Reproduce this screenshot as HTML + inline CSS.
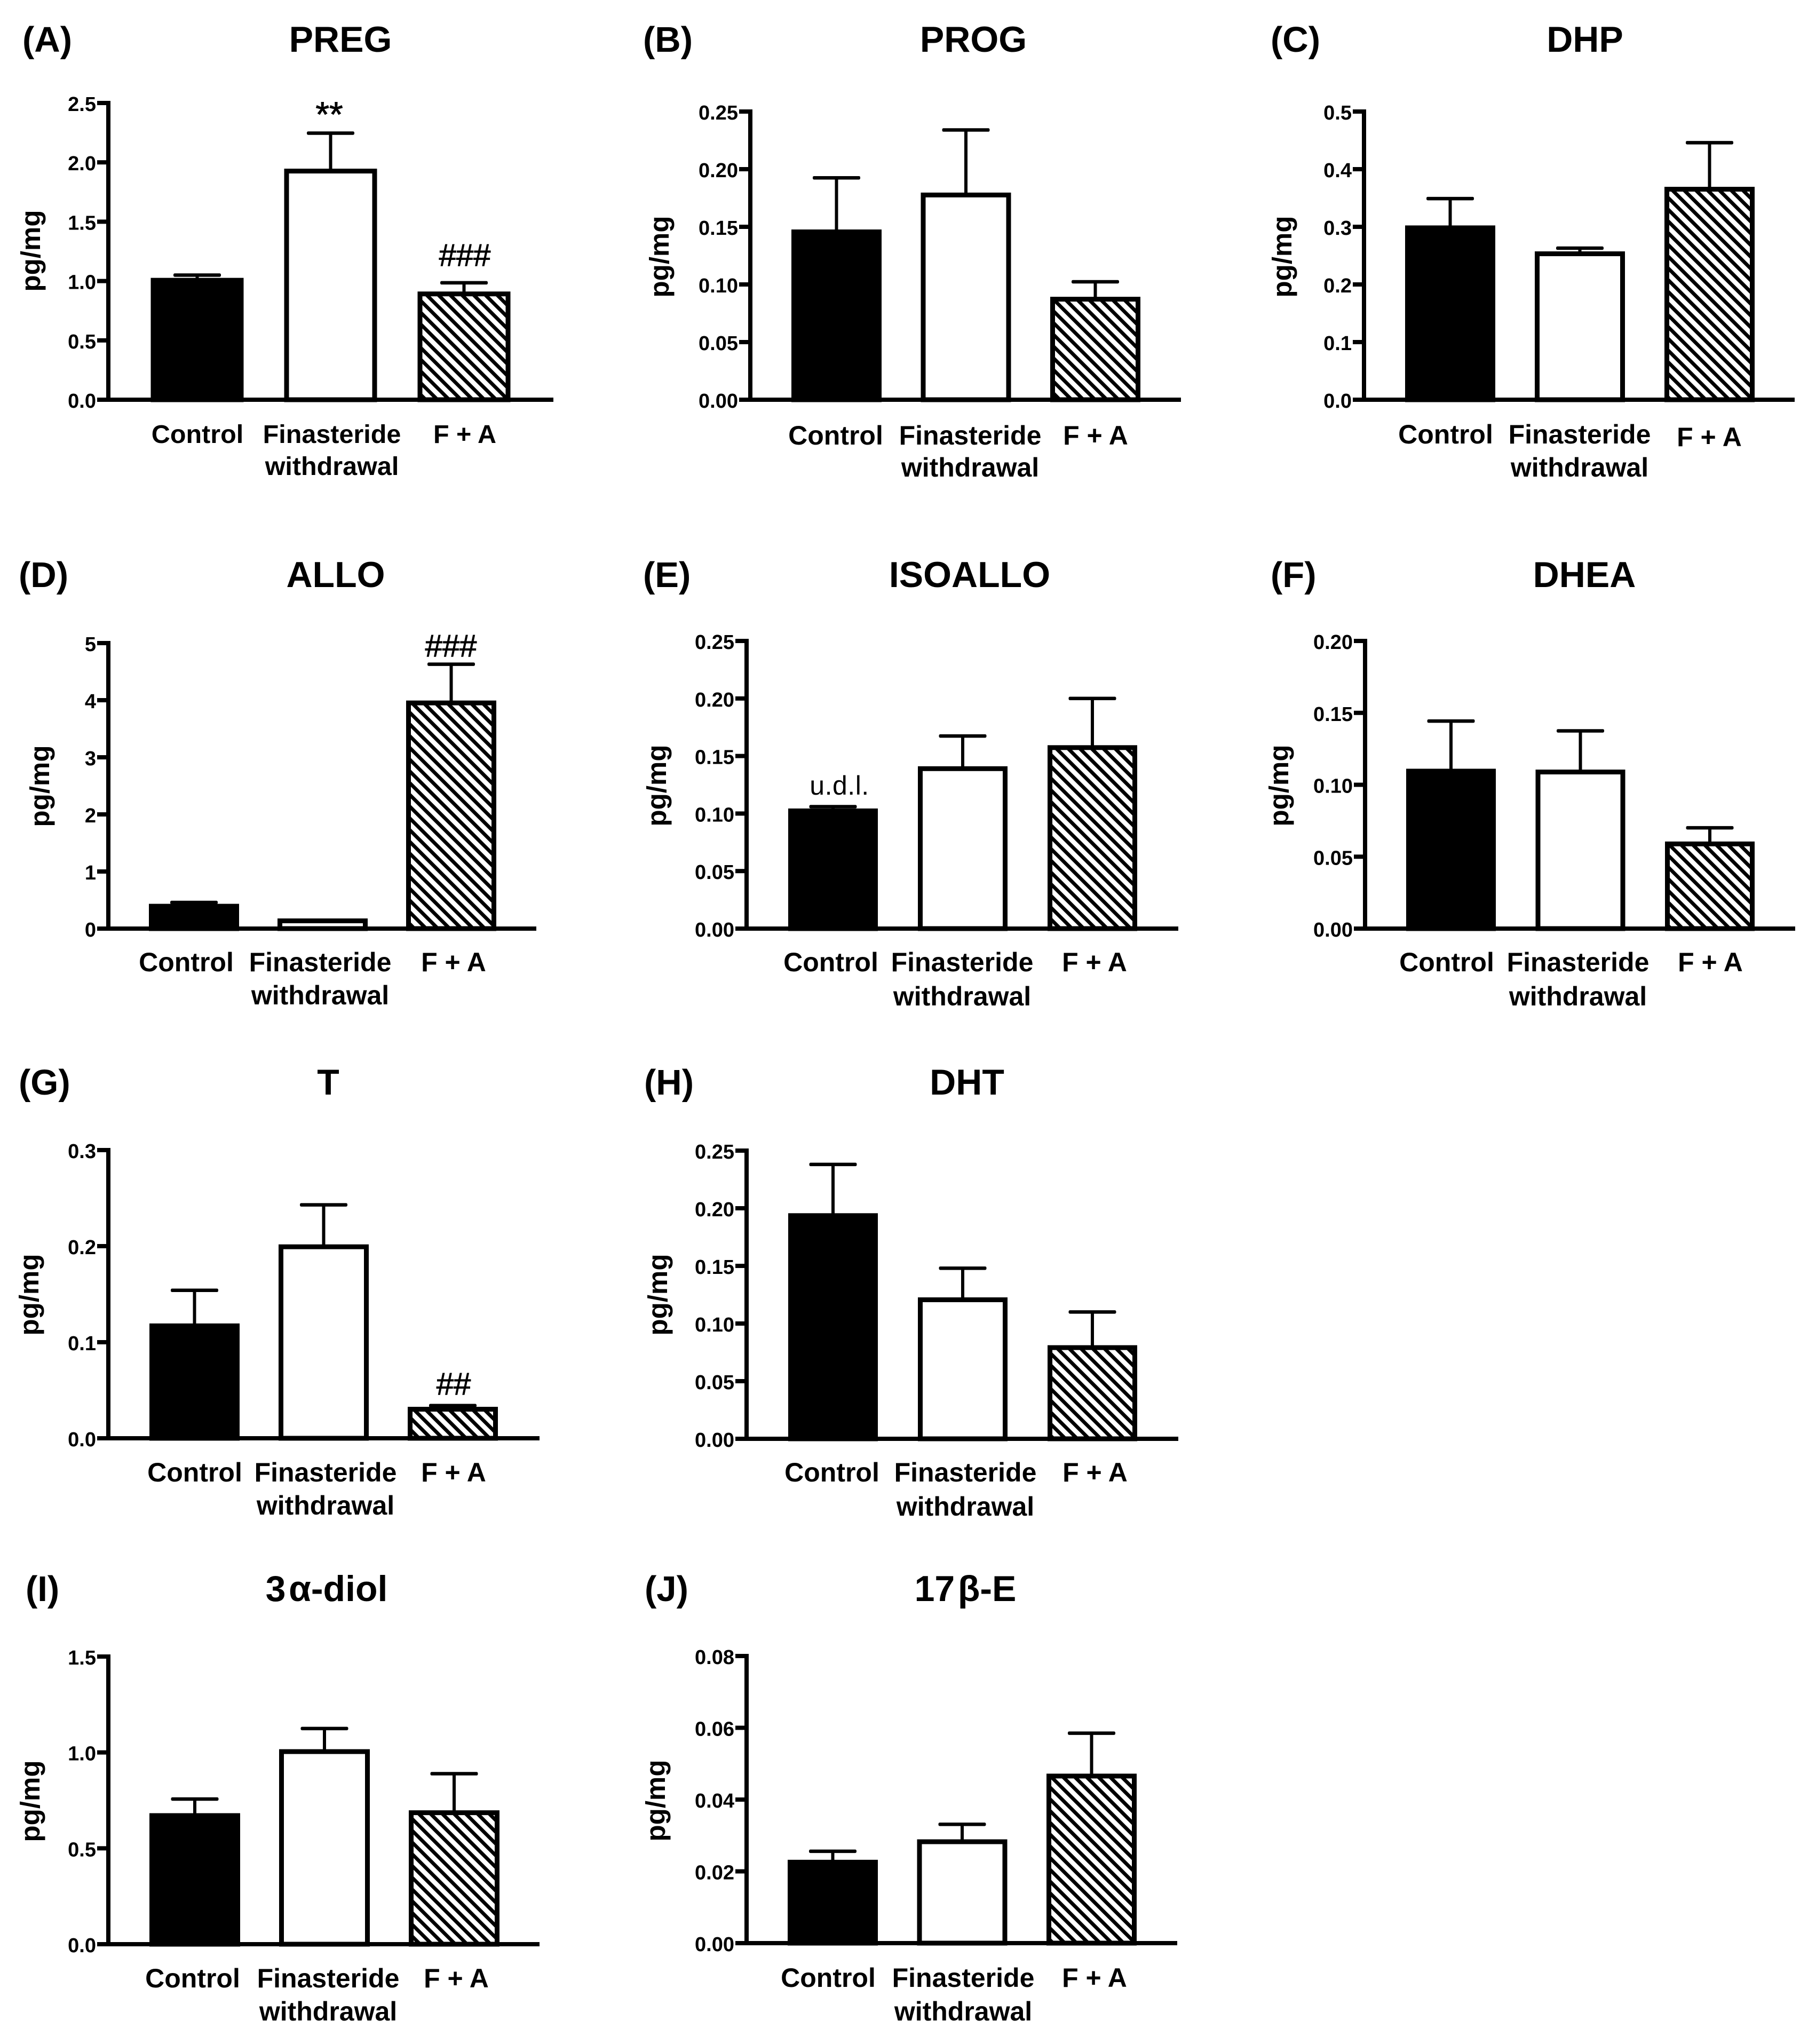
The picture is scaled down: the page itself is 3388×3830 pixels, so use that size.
<!DOCTYPE html>
<html lang="en">
<head>
<meta charset="utf-8">
<title>Neuroactive steroid levels by treatment group</title>
<style>
  html, body { margin: 0; padding: 0; background: #fff; }
  body { width: 3388px; height: 3830px; overflow: hidden; }
  svg { display: block; }
  text { font-family: "Liberation Sans", sans-serif; fill: #000; }
</style>
</head>
<body>
<svg id="figure" xmlns="http://www.w3.org/2000/svg" width="3388" height="3830" viewBox="0 0 3388 3830">
  <defs>
    <pattern id="hatch" patternUnits="userSpaceOnUse" width="15.56" height="15.56" patternTransform="rotate(-45)">
      <rect x="0" y="0" width="15.56" height="15.56" fill="#fff"></rect>
      <rect x="0" y="0" width="6.8" height="15.56" fill="#000"></rect>
    </pattern>
  </defs>
</svg>
<script>
// ---- Chart data -----------------------------------------------------------
const categories = ['Control', 'Finasteride withdrawal', 'F + A'];
const groupFills = ['black', 'white', 'hatch'];

const pregMeans = [1.02, 1.94, 0.905];
const pregErrors = [0.03, 0.306, 0.08];
const pregTicks = ['0.0', '0.5', '1.0', '1.5', '2.0', '2.5'];

const progMeans = [0.147, 0.179, 0.0886];
const progErrors = [0.0455, 0.055, 0.0137];
const progTicks = ['0.00', '0.05', '0.10', '0.15', '0.20', '0.25'];

const dhpMeans = [0.301, 0.256, 0.368];
const dhpErrors = [0.048, 0.007, 0.078];
const dhpTicks = ['0.0', '0.1', '0.2', '0.3', '0.4', '0.5'];

const alloMeans = [0.42, 0.164, 3.98];
const alloErrors = [0.038, 0, 0.65];
const alloTicks = ['0', '1', '2', '3', '4', '5'];

const isoalloMeans = [0.1037, 0.1404, 0.1587];
const isoalloErrors = [0.0023, 0.027, 0.0413];
const isoalloTicks = ['0.00', '0.05', '0.10', '0.15', '0.20', '0.25'];

const dheaMeans = [0.1106, 0.11, 0.06];
const dheaErrors = [0.0337, 0.0275, 0.0101];
const dheaTicks = ['0.00', '0.05', '0.10', '0.15', '0.20'];

const tMeans = [0.1187, 0.201, 0.0319];
const tErrors = [0.0353, 0.042, 0.0021];
const tTicks = ['0.0', '0.1', '0.2', '0.3'];

const dhtMeans = [0.195, 0.122, 0.0805];
const dhtErrors = [0.043, 0.026, 0.0295];
const dhtTicks = ['0.00', '0.05', '0.10', '0.15', '0.20', '0.25'];

const diolMeans = [0.679, 1.0127, 0.694];
const diolErrors = [0.078, 0.112, 0.195];
const diolTicks = ['0.0', '0.5', '1.0', '1.5'];

const estradiolMeans = [0.023, 0.0287, 0.047];
const estradiolErrors = [0.0026, 0.0044, 0.0115];
const estradiolTicks = ['0.00', '0.02', '0.04', '0.06', '0.08'];

// ---- Panel layout ---------------------------------------------------------
const panels = [
  { id: 'preg', letter: '(A)', title: 'PREG', means: pregMeans, errors: pregErrors, ticks: pregTicks, labelSize: 48.5,
    axisX: 203, top: 193, base: 749, tickL: 182, right: 1037, barX: 282.5, barStep: 250, barW: 174,
    titleX: 638, titleY: 97, letterX: 42, letterY: 97, unitX: 75, unitY: 470,
    labelX: [370, 622, 871], labelY: 830, label2Y: 890,
    notes: [{ t: '**', x: 617, y: 237, s: 66 }, { t: '###', x: 871, y: 498, s: 58 }] },
  { id: 'prog', letter: '(B)', title: 'PROG', means: progMeans, errors: progErrors, ticks: progTicks, labelSize: 50,
    axisX: 1406, top: 209, base: 749, tickL: 1385, right: 2213, barX: 1483, barStep: 242.5, barW: 169,
    titleX: 1824, titleY: 97, letterX: 1205, letterY: 97, unitX: 1253, unitY: 481,
    labelX: [1566, 1818, 2053], labelY: 833, label2Y: 893, notes: [] },
  { id: 'dhp', letter: '(C)', title: 'DHP', means: dhpMeans, errors: dhpErrors, ticks: dhpTicks, labelSize: 50,
    axisX: 2556, top: 209, base: 749, tickL: 2535, right: 3363, barX: 2633, barStep: 243, barW: 169,
    titleX: 2970, titleY: 97, letterX: 2381, letterY: 97, unitX: 2420, unitY: 481,
    labelX: [2709, 2960, 3203], labelY: 831, label2Y: 893, thirdY: 836, notes: [] },
  { id: 'allo', letter: '(D)', title: 'ALLO', means: alloMeans, errors: alloErrors, ticks: alloTicks, labelSize: 50,
    axisX: 203, top: 1205, base: 1740, tickL: 182, right: 1005, barX: 279, barStep: 241, barW: 169,
    titleX: 629, titleY: 1100, letterX: 35, letterY: 1100, unitX: 92, unitY: 1473,
    labelX: [349, 600, 850], labelY: 1820, label2Y: 1882,
    notes: [{ t: '###', x: 845, y: 1230, s: 58 }] },
  { id: 'isoallo', letter: '(E)', title: 'ISOALLO', means: isoalloMeans, errors: isoalloErrors, ticks: isoalloTicks, labelSize: 50,
    axisX: 1399, top: 1201, base: 1740, tickL: 1378, right: 2208, barX: 1477, barStep: 243, barW: 168,
    titleX: 1817, titleY: 1100, letterX: 1205, letterY: 1100, unitX: 1248, unitY: 1472,
    labelX: [1557, 1803, 2051], labelY: 1820, label2Y: 1884,
    notes: [{ t: 'u.d.l.', x: 1573, y: 1489, s: 50, ls: 0.5 }] },
  { id: 'dhea', letter: '(F)', title: 'DHEA', means: dheaMeans, errors: dheaErrors, ticks: dheaTicks, labelSize: 50,
    axisX: 2558, top: 1201, base: 1740, tickL: 2537, right: 3364, barX: 2635, barStep: 242.5, barW: 168,
    titleX: 2969, titleY: 1100, letterX: 2381, letterY: 1100, unitX: 2414, unitY: 1472,
    labelX: [2711, 2957, 3205], labelY: 1820, label2Y: 1884, notes: [] },
  { id: 't', letter: '(G)', title: 'T', means: tMeans, errors: tErrors, ticks: tTicks, labelSize: 50,
    axisX: 203, top: 2155, base: 2695, tickL: 182, right: 1011, barX: 280, barStep: 242, barW: 169,
    titleX: 615, titleY: 2051, letterX: 35, letterY: 2051, unitX: 72, unitY: 2426,
    labelX: [365, 610, 850], labelY: 2776, label2Y: 2838,
    notes: [{ t: '##', x: 850, y: 2613, s: 58 }] },
  { id: 'dht', letter: '(H)', title: 'DHT', means: dhtMeans, errors: dhtErrors, ticks: dhtTicks, labelSize: 50,
    axisX: 1399, top: 2156, base: 2696, tickL: 1378, right: 2208, barX: 1477, barStep: 243, barW: 168,
    titleX: 1812, titleY: 2051, letterX: 1207, letterY: 2051, unitX: 1250, unitY: 2426,
    labelX: [1559, 1809, 2052], labelY: 2776, label2Y: 2840, notes: [] },
  { id: 'diol', letter: '(I)', title: '3\u200Aα-diol', means: diolMeans, errors: diolErrors, ticks: diolTicks, labelSize: 50,
    axisX: 203, top: 3104, base: 3643, tickL: 182, right: 1011, barX: 280, barStep: 243, barW: 170,
    titleX: 612, titleY: 3000, letterX: 48, letterY: 3000, unitX: 74, unitY: 3375,
    labelX: [361, 615, 855], labelY: 3724, label2Y: 3786, notes: [] },
  { id: 'estradiol', letter: '(J)', title: '17\u200Aβ-E', means: estradiolMeans, errors: estradiolErrors, ticks: estradiolTicks, labelSize: 50,
    axisX: 1399, top: 3103, base: 3641, tickL: 1378, right: 2206, barX: 1476, barStep: 242.5, barW: 169,
    titleX: 1809, titleY: 3000, letterX: 1208, letterY: 3000, unitX: 1246, unitY: 3374,
    labelX: [1552, 1805, 2051], labelY: 3723, label2Y: 3786, notes: [] }
];

// ---- Drawing --------------------------------------------------------------
const SVG_NS = 'http://www.w3.org/2000/svg';
const figure = document.getElementById('figure');
const BORDER = 9;
const AXIS = 8;
const BAR_TOP_OFFSET = 3;

function shape(parent, tag, attrs, text) {
  const node = document.createElementNS(SVG_NS, tag);
  Object.keys(attrs).forEach(function (k) { node.setAttribute(k, attrs[k]); });
  if (text !== undefined) node.textContent = text;
  parent.appendChild(node);
  return node;
}

function valueScale(p) {
  const max = parseFloat(p.ticks[p.ticks.length - 1]);
  return function (v) { return p.base - (v / max) * (p.base - p.top); };
}

panels.forEach(function (p) {
  const y = valueScale(p);
  let el;

  const g = shape(figure, 'g', {});
  
  

  el = shape(g, 'text', { x: p.letterX, y: p.letterY, 'font-size': 67, 'font-weight': 700 }, p.letter);
  
  

  el = shape(g, 'text', { x: p.titleX, y: p.titleY, 'font-size': 68, 'font-weight': 700, 'text-anchor': 'middle' }, p.title);
  
  

  el = shape(g, 'text', { x: 0, y: 0, 'font-size': 51, 'font-weight': 700, 'text-anchor': 'middle',
    transform: 'translate(' + p.unitX + ' ' + p.unitY + ') rotate(-90)' }, 'pg/mg');
  
  

  // bars and error bars
  p.means.forEach(function (mean, i) {
    const left = p.barX + i * p.barStep;
    const cx = left + p.barW / 2;
    const capY = y(mean + p.errors[i]);
    const topY = y(mean);

    if (p.errors[i] > 0) {
      el = shape(g, 'rect', { x: cx - 3, y: capY, width: 6, height: Math.max(0, topY - capY), fill: '#000' });
      
      

      el = shape(g, 'rect', { x: cx - 44.5, y: capY - 3.25, width: 89, height: 6.5, rx: 2.5, fill: '#000' });
      
      
    }

    const fill = groupFills[i] === 'hatch' ? 'url(#hatch)' : (groupFills[i] === 'black' ? '#000' : '#fff');
    const rectTop = topY + BAR_TOP_OFFSET;
    el = shape(g, 'rect', { x: left + BORDER / 2, y: rectTop, width: p.barW - BORDER,
      height: Math.max(0, p.base - rectTop), fill: fill, stroke: '#000', 'stroke-width': BORDER });
    
    
  });

  // axes
  el = shape(g, 'rect', { x: p.axisX - AXIS / 2, y: p.top - AXIS / 2, width: AXIS, height: p.base - p.top + AXIS, fill: '#000' });
  
  

  el = shape(g, 'rect', { x: p.tickL, y: p.base - AXIS / 2, width: p.right - p.tickL, height: AXIS, fill: '#000' });
  
  

  p.ticks.forEach(function (label) {
    const ty = y(parseFloat(label));
    el = shape(g, 'rect', { x: p.tickL, y: ty - AXIS / 2, width: p.axisX - p.tickL, height: AXIS, fill: '#000' });
    
    

    el = shape(g, 'text', { x: p.tickL - 2, y: ty + 15, 'font-size': 38, 'font-weight': 700, 'text-anchor': 'end' }, label);
    
    
  });

  // category labels
  categories.forEach(function (cat, i) {
    const lines = cat === 'F + A' ? [cat] : cat.split(' ');
    const firstY = (i === 2 && p.thirdY) ? p.thirdY : p.labelY;
    lines.forEach(function (line, j) {
      el = shape(g, 'text', { x: p.labelX[i], y: j === 0 ? firstY : p.label2Y, 'font-size': p.labelSize,
        'font-weight': 700, 'text-anchor': 'middle' }, line);
      
      
    });
  });

  // significance annotations
  p.notes.forEach(function (n) {
    el = shape(g, 'text', { x: n.x, y: n.y, 'font-size': n.s, 'text-anchor': 'middle', 'letter-spacing': n.ls || 0,
      stroke: n.t === 'u.d.l.' ? 'none' : '#000', 'stroke-width': 1 }, n.t);
    
    
  });
});
</script>
</body>
</html>
